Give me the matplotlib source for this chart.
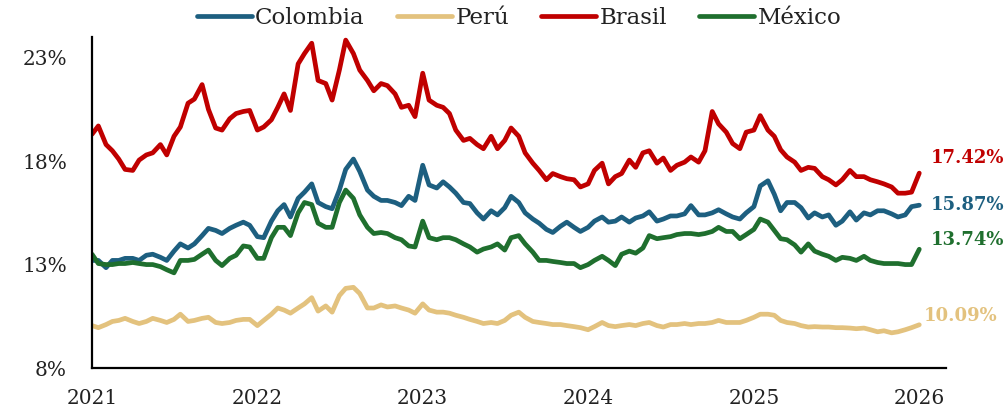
import matplotlib
matplotlib.use("Agg")
import matplotlib.pyplot as plt
import pandas as pd

# ---- data (semi-monthly readings, %) ----
dates = pd.date_range("2021-01-01", "2026-01-01", freq="SMS")

colombia = [13.2, 13.2, 12.85, 13.2, 13.2, 13.3, 13.3, 13.2, 13.45, 13.5, 13.35, 13.2, 13.65, 14.0, 13.8, 14.0, 14.4, 14.75, 14.65, 14.5, 14.75, 14.9, 15.05, 14.9, 14.35,
            14.3, 15.1, 15.6, 15.9, 15.3, 16.2, 16.5, 16.9, 16.0, 15.8, 15.7, 16.6, 17.6, 18.1, 17.5, 16.6, 16.3, 16.1, 16.1, 16.0, 15.85, 16.3, 16.1, 17.8,
            16.85, 16.7, 17.0, 16.75, 16.45, 16.0, 15.95, 15.5, 15.2, 15.6, 15.4, 15.75, 16.3, 16.0, 15.5, 15.2, 15.0, 14.7, 14.55, 14.85, 15.05, 14.8, 14.6, 14.8,
            15.1, 15.3, 15.05, 15.1, 15.3, 15.05, 15.25, 15.35, 15.55, 15.1, 15.2, 15.35, 15.35, 15.45, 15.85, 15.4, 15.4, 15.5, 15.65, 15.45, 15.3, 15.2, 15.5, 15.8, 16.8,
            17.05, 16.4, 15.6, 16.0, 16.0, 15.75, 15.25, 15.5, 15.3, 15.4, 14.9, 15.1, 15.55, 15.15, 15.5, 15.4, 15.6, 15.6, 15.45, 15.3, 15.4, 15.8, 15.87]

peru = [10.05, 9.95, 10.1, 10.25, 10.3, 10.4, 10.25, 10.15, 10.25, 10.4, 10.3, 10.2, 10.35, 10.6, 10.25, 10.3, 10.4, 10.45, 10.2, 10.15, 10.2, 10.3, 10.35, 10.35, 10.05,
        10.3, 10.6, 10.9, 10.8, 10.65, 10.9, 11.1, 11.4, 10.75, 11.0, 10.7, 11.5, 11.85, 11.9, 11.6, 10.9, 10.9, 11.05, 10.95, 11.0, 10.9, 10.8, 10.65, 11.1,
        10.8, 10.7, 10.7, 10.65, 10.55, 10.45, 10.35, 10.25, 10.15, 10.2, 10.15, 10.3, 10.55, 10.7, 10.45, 10.25, 10.2, 10.15, 10.1, 10.1, 10.05, 10.0, 9.95, 9.85,
        10.0, 10.2, 10.05, 10.0, 10.05, 10.1, 10.05, 10.15, 10.2, 10.05, 9.98, 10.1, 10.1, 10.15, 10.1, 10.15, 10.15, 10.2, 10.3, 10.2, 10.2, 10.2, 10.3, 10.45, 10.6,
        10.6, 10.55, 10.3, 10.2, 10.15, 10.05, 9.98, 10.0, 9.98, 9.98, 9.95, 9.95, 9.93, 9.9, 9.93, 9.85, 9.75, 9.8, 9.7, 9.75, 9.85, 9.95, 10.09]

brasil = [19.3, 19.7, 18.8, 18.5, 18.1, 17.6, 17.55, 18.05, 18.3, 18.4, 18.8, 18.3, 19.2, 19.65, 20.8, 21.0, 21.7, 20.5, 19.6, 19.5, 20.05, 20.3, 20.4, 20.45, 19.5,
          19.65, 20.0, 20.6, 21.25, 20.45, 22.7, 23.2, 23.7, 21.9, 21.75, 20.95, 22.4, 23.85, 23.2, 22.4, 21.9, 21.4, 21.75, 21.65, 21.25, 20.6, 20.7, 20.15, 22.25,
          20.95, 20.7, 20.6, 20.3, 19.5, 19.0, 19.1, 18.8, 18.6, 19.2, 18.6, 19.0, 19.6, 19.2, 18.4, 17.9, 17.55, 17.1, 17.4, 17.25, 17.15, 17.1, 16.75, 16.9,
          17.55, 17.9, 16.9, 17.25, 17.4, 18.05, 17.7, 18.4, 18.5, 17.9, 18.15, 17.55, 17.8, 17.95, 18.2, 17.95, 18.5, 20.4, 19.8, 19.4, 18.85, 18.6, 19.4, 19.5, 20.2,
          19.5, 19.2, 18.55, 18.2, 17.95, 17.55, 17.7, 17.65, 17.25, 17.1, 16.85, 17.1, 17.55, 17.25, 17.25, 17.1, 17.0, 16.9, 16.75, 16.45, 16.45, 16.5, 17.42]

mexico = [13.5, 13.05, 13.0, 13.0, 13.05, 13.05, 13.1, 13.05, 13.0, 13.0, 12.9, 12.75, 12.6, 13.2, 13.2, 13.25, 13.5, 13.7, 13.2, 12.95, 13.3, 13.45, 13.9, 13.85, 13.3,
          13.3, 14.3, 14.8, 14.8, 14.4, 15.5, 16.0, 15.9, 15.0, 14.8, 14.8, 16.0, 16.6, 16.2, 15.4, 14.8, 14.5, 14.55, 14.5, 14.3, 14.2, 13.9, 13.85, 15.1,
          14.3, 14.2, 14.3, 14.3, 14.2, 14.0, 13.85, 13.6, 13.75, 13.85, 14.0, 13.7, 14.3, 14.4, 14.0, 13.6, 13.2, 13.2, 13.15, 13.1, 13.05, 13.05, 12.85, 13.0,
          13.2, 13.4, 13.2, 12.95, 13.5, 13.65, 13.55, 13.8, 14.4, 14.25, 14.3, 14.35, 14.45, 14.5, 14.5, 14.45, 14.5, 14.6, 14.8, 14.6, 14.6, 14.25, 14.45, 14.7, 15.2,
          15.05, 14.65, 14.25, 14.2, 13.95, 13.6, 14.0, 13.65, 13.5, 13.4, 13.2, 13.35, 13.3, 13.2, 13.4, 13.2, 13.1, 13.05, 13.05, 13.05, 13.0, 13.0, 13.74]

series_names = ["Colombia", "Perú", "Brasil", "México"]
series_values = [colombia, peru, brasil, mexico]
end_labels = ["15.87%", "10.09%", "17.42%", "13.74%"]
year_ticks = ["2021", "2022", "2023", "2024", "2025", "2026"]
y_ticks = [8, 13, 18, 23]
y_tick_labels = ["8%", "13%", "18%", "23%"]

# ---- styles ----
colors = ["#1d5f80", "#e3c27e", "#c00000", "#1f6f2e"]
label_offsets = [(8, 0), (3, 6), (8, 11), (8, 7)]  # points

plt.rcParams["font.family"] = ["DejaVu Serif"]

fig = plt.figure(figsize=(10.07, 4.12), dpi=100)
ax = fig.add_axes([92 / 1007, 1 - 368 / 412, (946 - 92) / 1007, (368 - 37) / 412])

for name, vals, col in zip(series_names, series_values, colors):
    ax.plot(dates, vals, color=col, lw=3.4, label=name, solid_joinstyle="round",
            solid_capstyle="round")

for vals, lab, col, off in zip(series_values, end_labels, colors, label_offsets):
    ax.annotate(lab, xy=(dates[-1], vals[-1]), xytext=off, textcoords="offset points",
                ha="left", va="center", color=col, fontsize=13, fontweight="bold",
                annotation_clip=False)

ax.set_ylim(8, 24)
ax.set_yticks(y_ticks)
ax.set_yticklabels(y_tick_labels)
ax.set_xlim(pd.Timestamp("2021-01-01"), pd.Timestamp("2026-03-01"))
ax.set_xticks([pd.Timestamp(f"{y}-01-01") for y in year_ticks])
ax.set_xticklabels(year_ticks)

for s in ["top", "right"]:
    ax.spines[s].set_visible(False)
for s in ["left", "bottom"]:
    ax.spines[s].set_linewidth(1.6)
    ax.spines[s].set_color("black")
ax.tick_params(axis="both", length=0, labelsize=14.5, colors="#222222")
ax.tick_params(axis="y", pad=18)
ax.tick_params(axis="x", pad=15)

leg = fig.legend(loc="center", bbox_to_anchor=(519 / 1007, 1 - 18 / 412), ncol=4,
                 frameon=False, fontsize=16.5, handlelength=2.4, handletextpad=0.15,
                 columnspacing=1.4)
for line in leg.get_lines():
    line.set_linewidth(3.4)
for t in leg.get_texts():
    t.set_color("#222222")

fig.savefig("out.png", dpi=100)
